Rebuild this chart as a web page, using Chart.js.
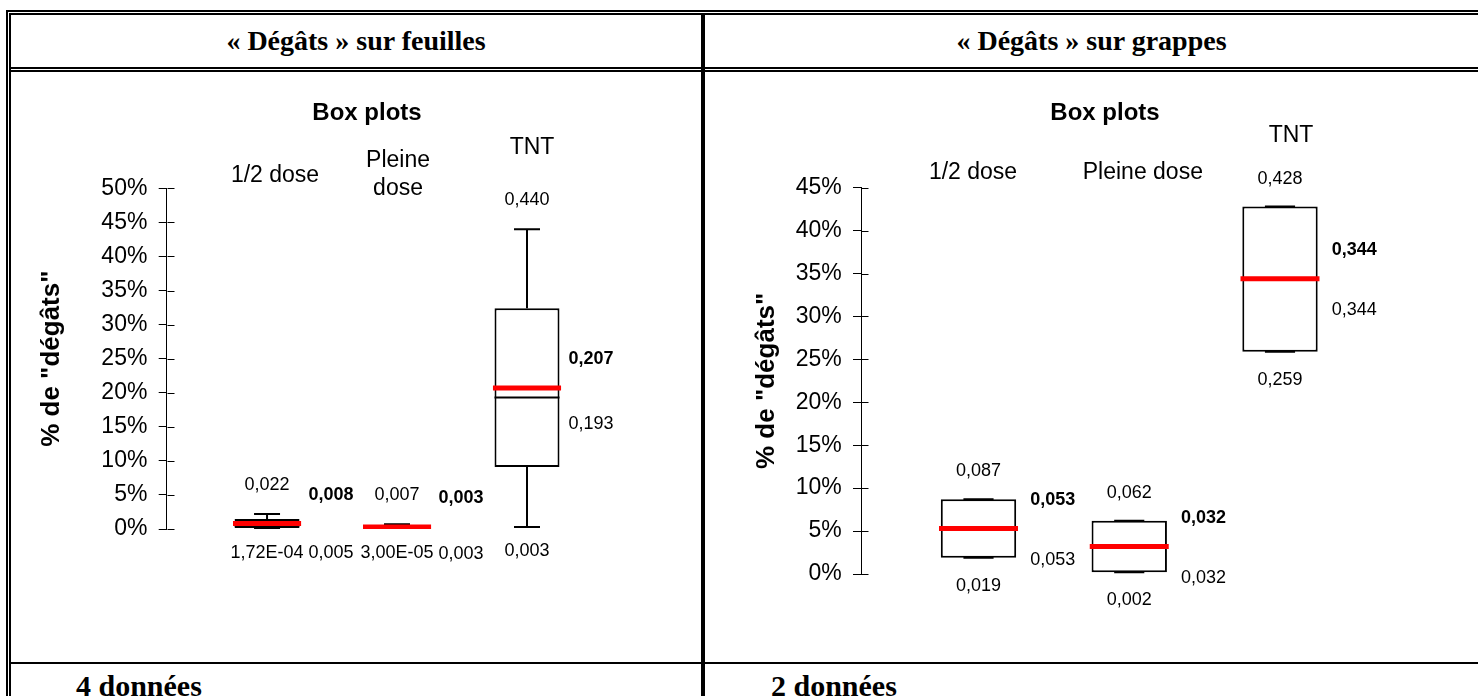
<!DOCTYPE html>
<html><head><meta charset="utf-8">
<script src="https://cdn.jsdelivr.net/npm/chart.js@4"></script>
<style>
html,body{margin:0;padding:0;background:#fff;}
body{width:1478px;height:696px;overflow:hidden;position:relative;}
.ln{position:absolute;background:#000;z-index:2;}
.hd{position:absolute;font-family:'Liberation Serif','Times New Roman',serif;font-weight:bold;font-size:28px;color:#000;white-space:nowrap;display:flex;align-items:center;justify-content:center;}
.ft{position:absolute;font-family:'Liberation Serif','Times New Roman',serif;font-weight:bold;font-size:30px;line-height:30px;color:#000;white-space:nowrap;}
canvas{position:absolute;}
</style></head><body>

<!-- table borders -->
<div class="ln" style="left:6px;top:10px;width:2px;height:700px"></div>
<div class="ln" style="left:9px;top:13px;width:2px;height:700px"></div>
<div class="ln" style="left:6px;top:10px;width:1480px;height:2px"></div>
<div class="ln" style="left:9px;top:13px;width:1480px;height:2px"></div>
<div class="ln" style="left:11px;top:67px;width:1480px;height:2px"></div>
<div class="ln" style="left:11px;top:70px;width:1480px;height:2px"></div>
<div class="ln" style="left:701px;top:15px;width:4px;height:700px"></div>
<div class="ln" style="left:11px;top:662px;width:1480px;height:2px"></div>

<div class="hd" style="left:11px;top:15px;width:690px;height:52px">« Dégâts » sur feuilles</div>
<div class="hd" style="left:705px;top:15px;width:773px;height:52px">« Dégâts » sur grappes</div>
<div class="ft" style="left:76px;top:671px">4 données</div>
<div class="ft" style="left:771px;top:671px">2 données</div>

<canvas id="leaf" width="688" height="588" style="left:12px;top:73px"></canvas>
<canvas id="grape" width="772" height="588" style="left:706px;top:73px"></canvas>

<script>
// ---------- data ----------
const categories = ['1/2 dose', 'Pleine dose', 'TNT'];
const chartTitle = 'Box plots';
const yTitle = '% de "dégâts"';

// Dégâts sur feuilles (4 données)
const leafMin    = [0.000172, 0.00003, 0.003];
const leafQ1     = [0.0015, 0.0008, 0.091];
const leafMedian = [0.005, 0.003, 0.193];
const leafMean   = [0.008, 0.003, 0.207];
const leafQ3     = [0.0145, 0.006, 0.324];
const leafMax    = [0.022, 0.007, 0.440];
const leafTicks  = [0, 0.05, 0.10, 0.15, 0.20, 0.25, 0.30, 0.35, 0.40, 0.45, 0.50];
const leafHeaders = [['1/2 dose'], ['Pleine', 'dose'], ['TNT']];

// Dégâts sur grappes (2 données)
const grapeMin    = [0.019, 0.002, 0.259];
const grapeQ1     = [0.019, 0.002, 0.259];
const grapeMedian = [0.053, 0.032, 0.344];
const grapeMean   = [0.053, 0.032, 0.344];
const grapeQ3     = [0.087, 0.062, 0.428];
const grapeMax    = [0.087, 0.062, 0.428];
const grapeTicks  = [0, 0.05, 0.10, 0.15, 0.20, 0.25, 0.30, 0.35, 0.40, 0.45];
const grapeHeaders = [['1/2 dose'], ['Pleine dose'], ['TNT']];

// ---------- helpers ----------
Chart.defaults.font.family = "'Liberation Sans', Arial, sans-serif";
Chart.defaults.color = '#000';

function fmt(v) {
  if (v !== 0 && Math.abs(v) < 0.001) {
    const parts = v.toExponential(2).split('e');
    const ex = parseInt(parts[1], 10);
    return parts[0].replace('.', ',') + 'E' + (ex < 0 ? '-' : '+') + String(Math.abs(ex)).padStart(2, '0');
  }
  return v.toFixed(3).replace('.', ',');
}

const BOX_HALF = 0.25, CAP_HALF = 0.1, MEAN_HALF = 0.262;

function segments(xs, ys, half) {
  const pts = [];
  xs.forEach((x, i) => { pts.push({x: x - half, y: ys[i]}, {x: x + half, y: ys[i]}, {x: x, y: null}); });
  return pts;
}
function whiskers(xs, mins, q1s, q3s, maxs) {
  const pts = [];
  xs.forEach((x, i) => {
    pts.push({x, y: q3s[i]}, {x, y: maxs[i]}, {x, y: null});
    pts.push({x: x - CAP_HALF, y: maxs[i]}, {x: x + CAP_HALF, y: maxs[i]}, {x, y: null});
    pts.push({x, y: q1s[i]}, {x, y: mins[i]}, {x, y: null});
    pts.push({x: x - CAP_HALF, y: mins[i]}, {x: x + CAP_HALF, y: mins[i]}, {x, y: null});
  });
  return pts;
}

function labelPlugin(src, lay) {
  return {
    id: 'boxLabels',
    afterDraw(chart) {
      const {ctx, chartArea, scales: {x, y}} = chart;
      ctx.save();
      // inner half of the crossing tick marks
      ctx.strokeStyle = '#000'; ctx.lineWidth = 1;
      y.ticks.forEach((t, i) => {
        const py = Math.round(y.getPixelForTick(i)) + 0.5;
        const px = Math.round(chartArea.left) + 0.5;
        ctx.beginPath(); ctx.moveTo(px, py); ctx.lineTo(px + lay.innerTick, py); ctx.stroke();
      });
      ctx.fillStyle = '#000';
      ctx.textBaseline = 'alphabetic';
      // category headers
      ctx.textAlign = 'center';
      ctx.font = lay.headerSize + "px 'Liberation Sans', Arial, sans-serif";
      src.headers.forEach((lines, i) => {
        const cx = x.getPixelForValue(src.xs[i]) + lay.headerDx[i];
        lines.forEach((t, k) => ctx.fillText(t, cx, lay.headerY[i] + k * lay.headerGap));
      });
      // value labels
      const normal = lay.valueSize + "px 'Liberation Sans', Arial, sans-serif";
      const bold = 'bold ' + normal;
      src.xs.forEach((xv, i) => {
        const cx = x.getPixelForValue(xv);
        const rx = x.getPixelForValue(xv + BOX_HALF) + lay.sideGap;
        ctx.font = normal; ctx.textAlign = 'center';
        ctx.fillText(fmt(src.max[i]), cx, y.getPixelForValue(src.max[i]) + lay.maxDy);
        ctx.fillText(fmt(src.min[i]), cx, y.getPixelForValue(src.min[i]) + lay.minDy);
        ctx.textAlign = 'left';
        ctx.fillText(fmt(src.median[i]), rx, y.getPixelForValue(src.median[i]) + lay.medianDy);
        ctx.font = bold;
        ctx.fillText(fmt(src.mean[i]), rx, y.getPixelForValue(src.mean[i]) + lay.meanDy);
      });
      ctx.restore();
    }
  };
}

function makeChart(id, src, lay) {
  const xs = src.xs;
  return new Chart(document.getElementById(id), {
    type: 'bar',
    data: {
      datasets: [
        { type: 'line', label: 'mean', order: 0, data: segments(xs, src.mean, MEAN_HALF),
          borderColor: '#ff0000', borderWidth: 5, pointRadius: 0, spanGaps: false, fill: false, tension: 0, borderCapStyle: 'butt' },
        { type: 'line', label: 'median', order: 1, data: segments(xs, src.median, BOX_HALF),
          borderColor: '#000', borderWidth: 2, pointRadius: 0, spanGaps: false, fill: false, tension: 0 },
        { type: 'line', label: 'whiskers', order: 2, data: whiskers(xs, src.min, src.q1, src.q3, src.max),
          borderColor: '#000', borderWidth: 2, pointRadius: 0, spanGaps: false, fill: false, tension: 0 },
        { type: 'bar', label: 'box', order: 3, data: xs.map((x, i) => ({x, y: [src.q1[i], src.q3[i]]})),
          backgroundColor: '#fff', borderColor: '#000', borderWidth: 2, borderSkipped: false,
          barPercentage: BOX_HALF * 2, categoryPercentage: 1 }
      ]
    },
    options: {
      responsive: false, animation: false, devicePixelRatio: 1,
      layout: { padding: lay.padding },
      plugins: {
        legend: { display: false }, tooltip: { enabled: false },
        title: { display: true, text: chartTitle, fullSize: false, align: 'center', color: '#000',
                 font: { size: 24, weight: 'bold' }, padding: lay.titlePad }
      },
      scales: {
        x: { type: 'linear', display: false, min: lay.xMin, max: lay.xMax, offset: false, grid: { offset: false },
             afterBuildTicks: s => { s.ticks = xs.map(v => ({value: v})); } },
        y: { type: 'linear', min: 0, max: src.ticks[src.ticks.length - 1],
             afterBuildTicks: s => { s.ticks = src.ticks.map(v => ({value: v})); },
             afterFit: s => { s.width = lay.yWidth; },
             ticks: { autoSkip: false, padding: 11.3, color: '#000', font: { size: 23 },
                      callback: v => Math.round(v * 100) + '%' },
             grid: { display: true, drawOnChartArea: false, drawTicks: true, tickLength: 8, color: '#000', lineWidth: 1 },
             border: { display: true, color: '#000', width: 1 },
             title: { display: true, text: yTitle, color: '#000', padding: 0, font: { size: 26, weight: 'bold' } } }
      }
    },
    plugins: [labelPlugin(src, lay)]
  });
}

makeChart('leaf',
  { xs: [1, 2, 3], min: leafMin, q1: leafQ1, median: leafMedian, mean: leafMean, q3: leafQ3, max: leafMax,
    ticks: leafTicks, headers: leafHeaders },
  { padding: { left: 24.4, right: 132.7, top: 10, bottom: 132 }, titlePad: { top: 16, bottom: 60.5 },
    yWidth: 130.3, xMin: 0.228, xMax: 3.31, innerTick: 7,
    headerSize: 23, headerGap: 28, headerDx: [8, 1, 5], headerY: [108.7, 93.7, 81],
    valueSize: 18, sideGap: 9, maxDy: -24, minDy: 29, meanDy: -24, medianDy: 32 });

makeChart('grape',
  { xs: [1, 2, 3], min: grapeMin, q1: grapeQ1, median: grapeMedian, mean: grapeMean, q3: grapeQ3, max: grapeMax,
    ticks: grapeTicks, headers: grapeHeaders },
  { padding: { left: 45.4, right: 129, top: 10, bottom: 87 }, titlePad: { top: 16.3, bottom: 59.6 },
    yWidth: 109.6, xMin: 0.2206, xMax: 3.4577, innerTick: 7,
    headerSize: 23, headerGap: 28, headerDx: [-5.5, 13.6, 11], headerY: [106.3, 106, 68.7],
    valueSize: 18, sideGap: 14, maxDy: -23, minDy: 33, meanDy: -24, medianDy: 36 });
</script>
</body></html>
